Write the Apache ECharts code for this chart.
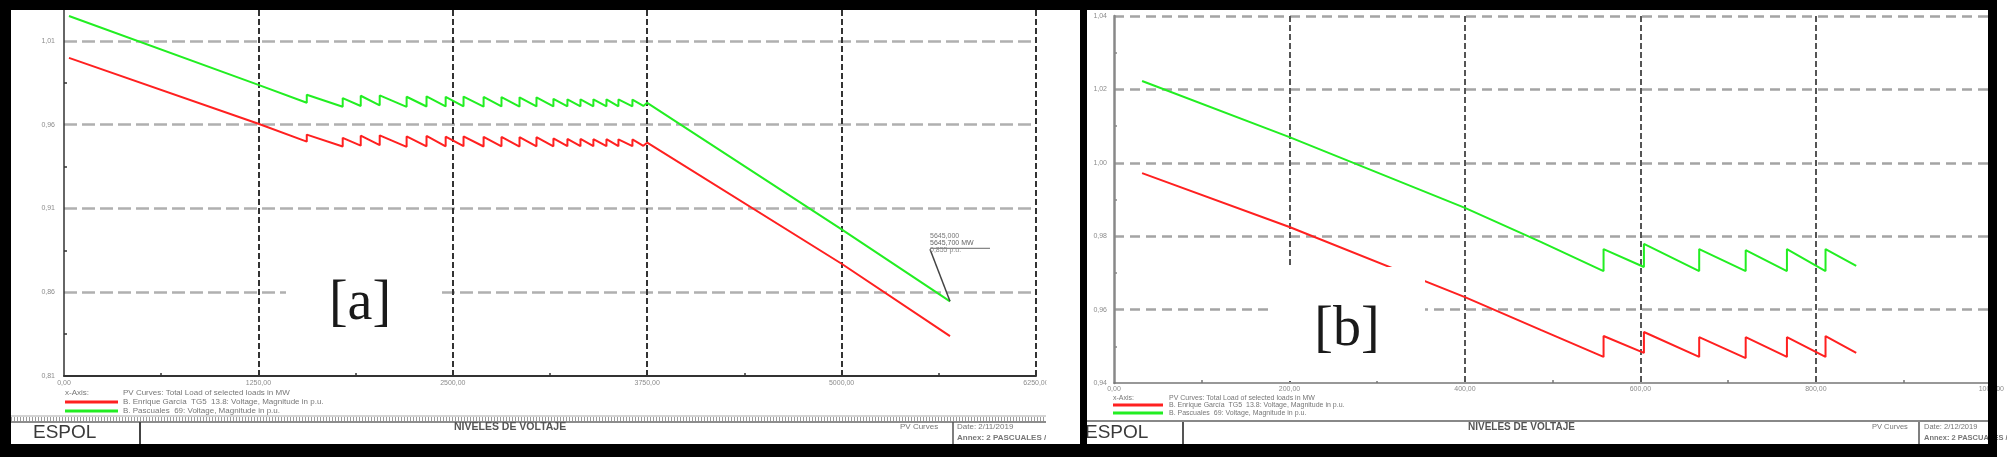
<!DOCTYPE html>
<html>
<head>
<meta charset="utf-8">
<title>Niveles de voltaje - curvas PV</title>
<script src="https://cdn.jsdelivr.net/npm/echarts@6/dist/echarts.min.js"></script>
<style>
  html, body { margin: 0; padding: 0; background: #fff; }
  #main { width: 2007px; height: 463px; }
</style>
</head>
<body>
<div id="main"></div>
<script>
// [a] carga total (MW) y voltajes (p.u.)
const loadA = [32, 1250, 1561, 1561, 1792, 1792, 1908, 1908, 2030, 2030, 2203, 2203, 2331, 2331,
  2454, 2454, 2569, 2569, 2698, 2698, 2813, 2813, 2929, 2929, 3038, 3038, 3147, 3147, 3237, 3237,
  3321, 3321, 3404, 3404, 3488, 3488, 3565, 3565, 3655, 3655, 3725, 3750, 5000, 5697];
const pascualesA = [1.0249, 0.9838, 0.9731, 0.9779, 0.9707, 0.9759, 0.9712, 0.9773, 0.9716, 0.9775,
  0.9707, 0.9767, 0.9709, 0.9770, 0.9709, 0.9767, 0.9710, 0.9768, 0.9708, 0.9766, 0.9709, 0.9765,
  0.9708, 0.9764, 0.9709, 0.9764, 0.9709, 0.9755, 0.9710, 0.9752, 0.9710, 0.9752, 0.9710, 0.9752,
  0.9710, 0.9752, 0.9710, 0.9751, 0.9710, 0.9750, 0.9712, 0.9731, 0.8975, 0.8546];
const enriqueA = [0.9999, 0.9606, 0.9499, 0.9541, 0.9470, 0.9522, 0.9475, 0.9535, 0.9478, 0.9537,
  0.9468, 0.9530, 0.9471, 0.9533, 0.9471, 0.9529, 0.9472, 0.9530, 0.9470, 0.9528, 0.9471, 0.9527,
  0.9470, 0.9526, 0.9471, 0.9526, 0.9471, 0.9518, 0.9472, 0.9515, 0.9472, 0.9515, 0.9472, 0.9514,
  0.9472, 0.9514, 0.9472, 0.9513, 0.9472, 0.9512, 0.9474, 0.9493, 0.8770, 0.8338];

// [b]
const loadB = [32, 200, 400, 487, 558, 558, 604, 604, 667, 667, 720, 720, 767, 767, 811, 811, 846];
const pascualesB = [1.0223, 1.0070, 0.9877, 0.9784, 0.9705, 0.9765, 0.9716, 0.9779, 0.9705, 0.9765,
  0.9705, 0.9762, 0.9705, 0.9765, 0.9705, 0.9765, 0.9719];
const enriqueB = [0.9972, 0.9825, 0.9634, 0.9544, 0.9471, 0.9528, 0.9482, 0.9539, 0.9471, 0.9525,
  0.9468, 0.9525, 0.9471, 0.9525, 0.9471, 0.9528, 0.9482];

const xTicksA = [0, 1250, 2500, 3750, 5000, 6250];
const yTicksA = [0.81, 0.86, 0.91, 0.96, 1.01];
const xTicksB = [0, 200, 400, 600, 800, 1000];
const yTicksB = [0.94, 0.96, 0.98, 1.00, 1.02, 1.04];

const legendTexts = [
  'PV Curves: Total Load of selected loads in MW',
  'B. Enrique García  TG5  13.8: Voltage, Magnitude in p.u.',
  'B. Pascuales  69: Voltage, Magnitude in p.u.'
];
const annotTexts = ['5645,000', '5645,700 MW', '0,855 p.u.'];

const RED = '#ff2020';
const GREEN = '#22ee22';
const FONT = 'Liberation Sans';

const chart = echarts.init(document.getElementById('main'));

const fmt = v => v.toFixed(2).replace('.', ',');

function axis(grid, ticks, max, o) {
  return {
    type: 'value', gridIndex: grid,
    min: ticks[0], max: max, interval: ticks[1] - ticks[0],
    axisLine: { onZero: false, lineStyle: { color: o.axisColor, width: o.axisWidth } },
    axisTick: { show: false, inside: true },
    minorTick: { show: true, splitNumber: 2, length: 3, lineStyle: { color: o.axisColor, width: 1.5 } },
    splitLine: {
      show: true, showMinLine: false, showMaxLine: o.maxLine,
      lineStyle: { color: o.gridColor, width: o.gridWidth, type: o.dash }
    },
    axisLabel: {
      fontSize: 7, color: '#8c8c8c', fontFamily: FONT, margin: o.margin,
      showMaxLabel: o.maxLabel, formatter: fmt
    }
  };
}

function series(x, y, xi, color) {
  return {
    type: 'line', xAxisIndex: xi, yAxisIndex: xi,
    data: x.map((v, i) => [v, y[i]]),
    showSymbol: false, animation: false,
    lineStyle: { color: color, width: 2 }, itemStyle: { color: color }
  };
}

// helpers for the decorations around the plots
const rect = (x, y, w, h, fill, z) => ({ type: 'rect', shape: { x: x, y: y, width: w, height: h }, style: { fill: fill }, z: z, silent: true });
const seg = (x1, y1, x2, y2, stroke, lw, dash) => ({ type: 'line', shape: { x1: x1, y1: y1, x2: x2, y2: y2 }, style: { stroke: stroke, lineWidth: lw, lineDash: dash || null }, z: 90, silent: true });
const txt = (x, y, t, size, color, weight, family, align) => ({
  type: 'text', x: x, y: y, z: 95, silent: true,
  style: { text: t, fontSize: size, fill: color, fontWeight: weight || 'normal', fontFamily: family || FONT, align: align || 'left', verticalAlign: 'middle' }
});

const deco = [
  // caja blanca detras de las etiquetas [a] y [b]
  rect(286, 288, 153, 8, '#fff', 50),
  rect(1270, 267, 155, 114, '#fff', 50),
  txt(360, 304, '[a]', 56, '#1a1a1a', 'normal', 'Liberation Serif', 'center'),
  txt(1347, 330, '[b]', 56, '#1a1a1a', 'normal', 'Liberation Serif', 'center'),

  // leyenda a
  txt(65, 393, 'x-Axis:', 8, '#777'),
  seg(65, 402, 118, 402, RED, 3),
  seg(65, 411, 118, 411, GREEN, 3),
  txt(123, 393, legendTexts[0], 8, '#777'),
  txt(123, 402, legendTexts[1], 8, '#777'),
  txt(123, 411, legendTexts[2], 8, '#777'),

  // leyenda b
  txt(1113, 398, 'x-Axis:', 7, '#777'),
  seg(1113, 405, 1163, 405, RED, 3),
  seg(1113, 413, 1163, 413, GREEN, 3),
  txt(1169, 398, legendTexts[0], 7, '#777'),
  txt(1169, 405.5, legendTexts[1], 7, '#777'),
  txt(1169, 413, legendTexts[2], 7, '#777'),

  // cajetin a
  seg(11, 416, 1046, 416, '#aaa', 1),
  seg(11, 419, 1046, 419, '#999', 4, [1, 2]),
  seg(11, 422, 1046, 422, '#666', 1.5),
  seg(140, 422, 140, 444, '#444', 2),
  seg(953, 422, 953, 444, '#555', 1.5),
  txt(33, 433, 'ESPOL', 19, '#3a3a3a'),
  txt(454, 427, 'NIVELES DE VOLTAJE', 10.5, '#555', 'bold'),
  txt(900, 427, 'PV Curves', 8, '#777'),
  txt(957, 427, 'Date: 2/11/2019', 8, '#777'),
  txt(957, 438, 'Annex: 2 PASCUALES /', 8, '#777', 'bold'),

  // cajetin b
  seg(1087, 421, 1988, 421, '#888', 2),
  seg(1183, 422, 1183, 444, '#555', 2),
  seg(1919, 422, 1919, 444, '#555', 1.5),
  txt(1085, 433, 'ESPOL', 19, '#3a3a3a'),
  txt(1468, 427, 'NIVELES DE VOLTAJE', 10, '#555', 'bold'),
  txt(1872, 427, 'PV Curves', 7.5, '#777'),
  txt(1924, 427, 'Date: 2/12/2019', 7.5, '#777'),
  txt(1924, 438, 'Annex: 2 PASCUALES /', 7.5, '#777', 'bold'),

  // recortes y marcos negros
  rect(1046.5, 378, 33.5, 67, '#fff', 99),
  rect(0, 0, 1997, 10, '#000', 100),
  rect(0, 0, 11, 457, '#000', 100),
  rect(0, 444, 1997, 13, '#000', 100),
  rect(1080, 0, 7, 457, '#000', 100),
  rect(1988, 0, 9, 457, '#000', 100)
];

const option = {
  backgroundColor: '#fff',
  animation: false,
  grid: [
    { left: 64, top: 10, width: 972, height: 366 },
    { left: 1114, top: 16, width: 879, height: 367 }
  ],
  xAxis: [
    axis(0, xTicksA, xTicksA[xTicksA.length - 1], { axisColor: '#333', axisWidth: 2, gridColor: '#333', gridWidth: 2, dash: [6, 3], maxLine: true, maxLabel: true, margin: 4 }),
    axis(1, xTicksB, xTicksB[xTicksB.length - 1], { axisColor: '#777', axisWidth: 1.5, gridColor: '#555', gridWidth: 2, dash: [6, 3], maxLine: true, maxLabel: true, margin: 3 })
  ],
  yAxis: [
    axis(0, yTicksA, 1.0285, { axisColor: '#333', axisWidth: 1.5, gridColor: '#b0b0b0', gridWidth: 2.5, dash: [13, 5], maxLine: false, maxLabel: false, margin: 9 }),
    axis(1, yTicksB, yTicksB[yTicksB.length - 1], { axisColor: '#888', axisWidth: 2.5, gridColor: '#a4a4a4', gridWidth: 2.5, dash: [10, 6], maxLine: true, maxLabel: true, margin: 7 })
  ],
  series: [
    series(loadA, enriqueA, 0, RED),
    series(loadA, pascualesA, 0, GREEN),
    series(loadB, enriqueB, 1, RED),
    series(loadB, pascualesB, 1, GREEN)
  ],
  graphic: { elements: deco }
};

chart.setOption(option);

// etiqueta del ultimo punto de la curva verde en [a]
const n = loadA.length - 1;
const end = chart.convertToPixel({ xAxisIndex: 0, yAxisIndex: 0 }, [loadA[n], pascualesA[n]]);
const ax = end[0] - 20, ay = end[1] - 52;
const annot = [
  seg(ax, ay, end[0], end[1], '#444', 1.5),
  seg(ax, ay - 1, ax + 60, ay - 1, '#666', 1),
  txt(ax, ay - 13, annotTexts[0], 7, '#777'),
  txt(ax, ay - 6, annotTexts[1], 7, '#666'),
  txt(ax, ay + 1, annotTexts[2], 7, '#888')
];
chart.setOption({ graphic: { elements: deco.concat(annot) } });
</script>
</body>
</html>
